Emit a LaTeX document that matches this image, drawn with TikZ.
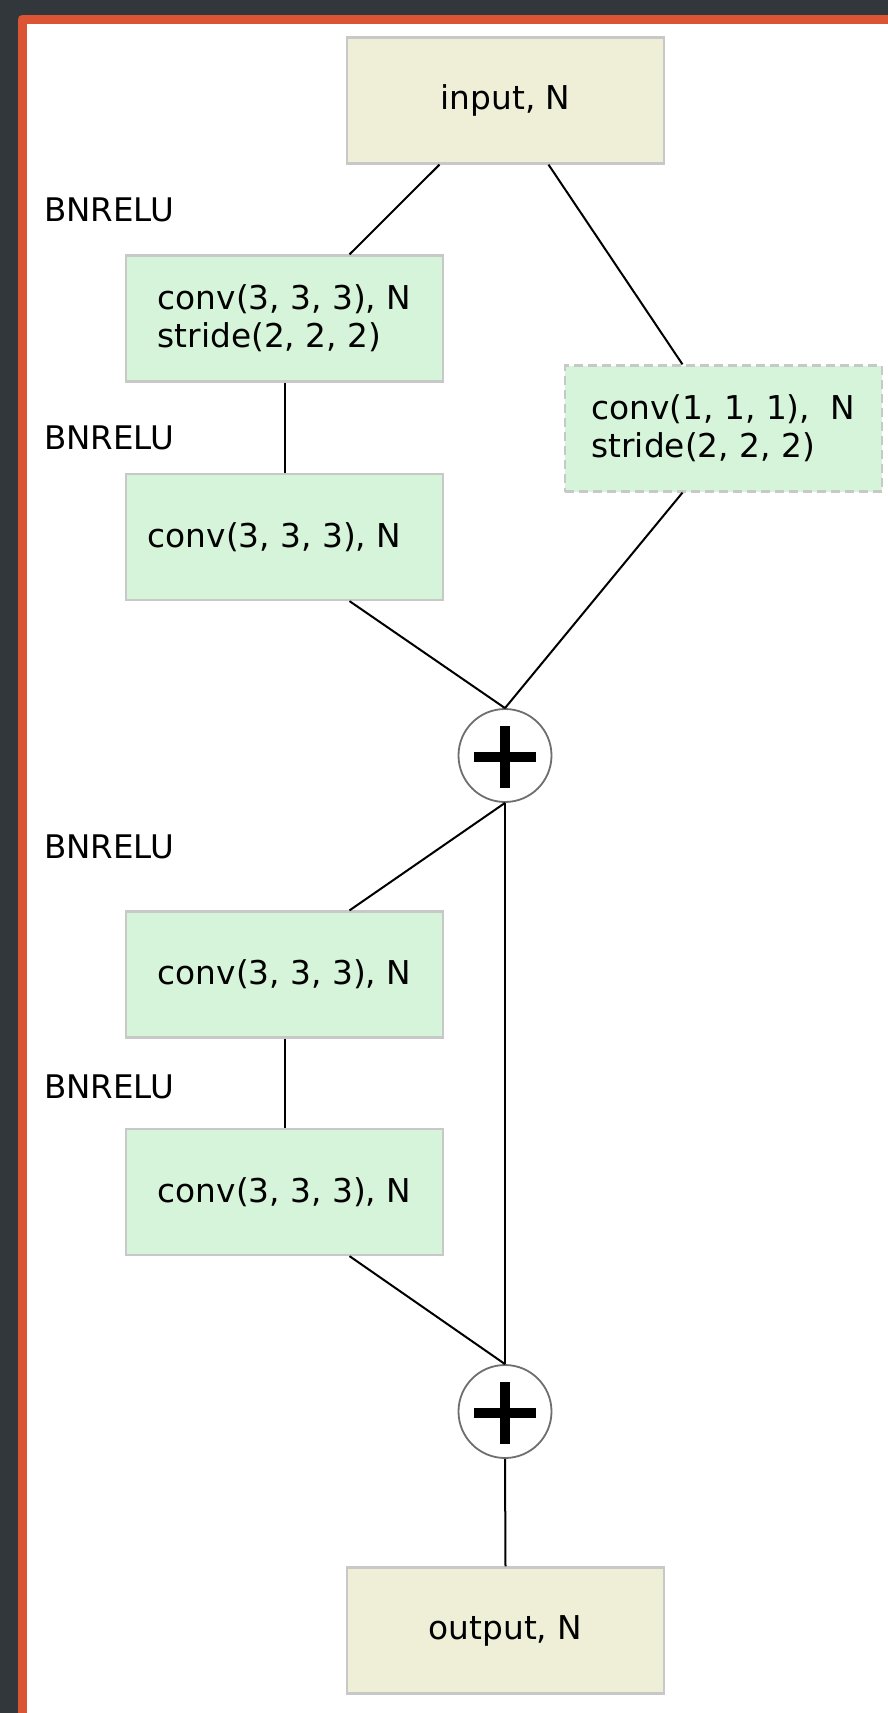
\documentclass[tikz,border=0pt]{standalone}
\usepackage{fontspec}
\setmainfont{DejaVu Sans}
\usetikzlibrary{calc}
\definecolor{darkbg}{HTML}{32373B}
\definecolor{frameor}{HTML}{DB5535}
\definecolor{beige}{HTML}{EEEFD6}
\definecolor{mint}{HTML}{D5F4D9}
\definecolor{boxline}{HTML}{C8C8C8}
\definecolor{circline}{HTML}{6E6E6E}
\tikzset{
  box/.style={draw=boxline, line width=2.2pt, minimum width=317pt, minimum height=126pt, inner sep=0pt, font=\fontsize{32.8}{38}\selectfont, align=left},
  iobox/.style={box, fill=beige},
  convbox/.style={box, fill=mint},
  dashbox/.style={convbox, dash pattern=on 9pt off 5pt},
  sumnode/.style={circle, draw=circline, line width=1.8pt, fill=white, minimum size=93pt, inner sep=0pt,
    path picture={
      \draw[black, line width=10pt] ([xshift=-31pt,yshift=-1.5pt]path picture bounding box.center) -- ([xshift=31pt,yshift=-1.5pt]path picture bounding box.center);
      \draw[black, line width=10pt] ([yshift=29.5pt]path picture bounding box.center) -- ([yshift=-32.5pt]path picture bounding box.center);
    }},
  lbl/.style={anchor=west, inner sep=0pt, font=\fontsize{32.5}{38}\selectfont},
  link/.style={draw=black, line width=2pt}
}
\begin{document}
\begin{tikzpicture}[x=1pt,y=-1pt]
\useasboundingbox (0,0) rectangle (888,1713);
\fill[darkbg] (0,0) rectangle (888,1713);
\fill[white] (22,19) rectangle (888,1713);
\draw[frameor, line width=9pt, line cap=round, line join=round] (22,1720) -- (22,19) -- (895,19);

\node[iobox] (input) at (505.5,100.5) {input, N};
\node[convbox] (conv1) at (284.5,318.5) {conv(3, 3, 3), N\\stride(2, 2, 2)};
\node[convbox] (conv2) at (284.5,537) {\hspace*{-20pt}conv(3, 3, 3), N};
\node[dashbox] (short) at (723.5,428.5) {conv(1, 1, 1),\ \ N\\stride(2, 2, 2)};
\node[sumnode] (sum1) at (505,755.5) {};
\node[convbox] (conv3) at (284.5,974.5) {conv(3, 3, 3), N};
\node[convbox] (conv4) at (284.5,1192) {conv(3, 3, 3), N};
\node[sumnode] (sum2) at (505,1411.5) {};
\node[iobox] (output) at (505.5,1630.5) {output, N};

\node[lbl] (b1) at (44,210) {BNRELU};
\node[lbl] (b2) at (44,437.5) {BNRELU};
\node[lbl] (b3) at (44,846.5) {BNRELU};
\node[lbl] (b4) at (44,1087) {BNRELU};

\draw[link] ([xshift=-66pt]input.south) -- ([xshift=65pt]conv1.north);
\draw[link] ([xshift=43pt]input.south) -- ([xshift=-41pt]short.north);
\draw[link] (conv1.south) -- (conv2.north);
\draw[link] ([xshift=65pt]conv2.south) -- (sum1.north);
\draw[link] ([xshift=-41pt]short.south) -- (sum1.north);
\draw[link] (sum1.south) -- ([xshift=65pt]conv3.north);
\draw[link] (sum1.south) -- (sum2.north);
\draw[link] (conv3.south) -- (conv4.north);
\draw[link] ([xshift=65pt]conv4.south) -- (sum2.north);
\draw[link] (sum2.south) -- (output.north);
\end{tikzpicture}
\end{document}
